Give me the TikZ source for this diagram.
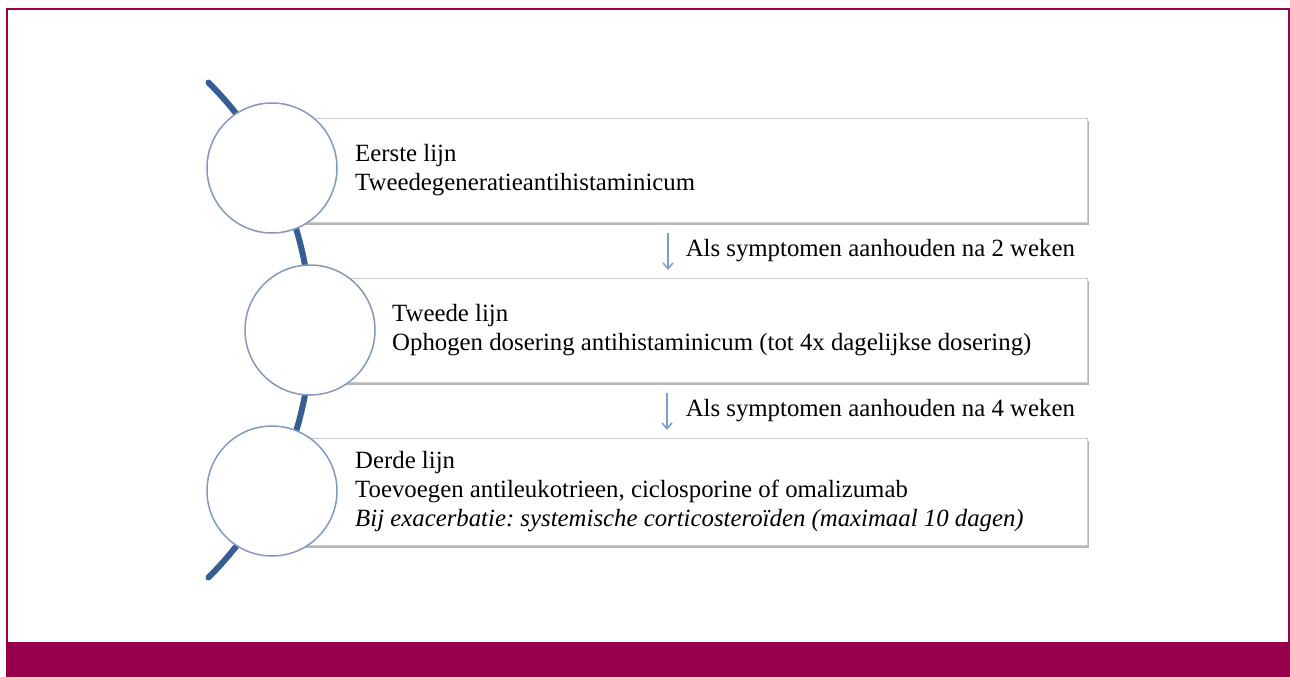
\documentclass[tikz,border=0pt]{standalone}
\usepackage{fontspec}
\setmainfont{Liberation Serif}
\frenchspacing
\usetikzlibrary{positioning,shadows,arrows.meta}
\definecolor{wine}{HTML}{99004C}
\definecolor{spineblue}{HTML}{365E94}
\definecolor{ringblue}{HTML}{8598C0}
\definecolor{arrowblue}{HTML}{7F9DCB}
\tikzset{
  stepbox/.style={draw=gray!40, line width=1pt, fill=white, inner sep=0pt,
    drop shadow={shadow xshift=1pt, shadow yshift=-2pt, fill=gray!80, opacity=.7},
    minimum height=104pt, anchor=north west},
  ring/.style={circle, draw=ringblue, line width=1.5pt, fill=white, minimum size=130pt, inner sep=0pt},
  steptext/.style={align=left, inner sep=0pt, font=\fontsize{24.8}{29}\selectfont},
  steplabel/.style={inner sep=0pt, font=\fontsize{24.8}{29}\selectfont},
  nextstep/.style={draw=arrowblue, line width=1.5pt, -{Straight Barb[length=6pt,width=10pt]}}
}
\begin{document}
\begin{tikzpicture}[x=1pt, y=-1pt]
\useasboundingbox (0,0) rectangle (1290,677);
% frame and footer band
\fill[wine] (6,642) rectangle (1290,677);
\draw[wine, line width=2pt] (7,642) -- (7,9) -- (1288.5,9) -- (1288.5,642);
% spine behind the rings
\coordinate (spinetop) at (208.5,82.5);
\draw[spineblue, line width=6pt, line cap=round] (spinetop) arc[start angle=45, end angle=-45, radius=350pt];
% boxes
\node[stepbox, minimum width=815pt] (b1) at (272,118) {};
\node[stepbox, minimum width=777pt] (b2) at (310,278) {};
\node[stepbox, minimum width=815pt, minimum height=107pt] (b3) at (272,438) {};
% rings
\node[ring] (c1) at (272,168) {};
\node[ring] (c2) at (310,330) {};
\node[ring] (c3) at (272,491) {};
% texts
\node[steptext, right=83pt of b1.west] (t1) {Eerste lijn\\Tweedegeneratieantihistaminicum};
\node[steptext, right=82pt of b2.west] (t2) {Tweede lijn\\Ophogen dosering antihistaminicum (tot 4x dagelijkse dosering)};
\node[steptext, right=83pt of b3.west] (t3) {Derde lijn\\Toevoegen antileukotrieen, ciclosporine of omalizumab\\
  \itshape Bij exacerbatie: systemische corticosteroïden (maximaal 10 dagen)};
% arrows
\draw[nextstep, shorten <=10pt, shorten >=8pt] ([xshift=-12pt]b1.south) -- ([xshift=-12pt]b1.south |- b2.north)
  node[steplabel, midway, right=17pt] (l1) {Als symptomen aanhouden na 2 weken};
\draw[nextstep, shorten <=10pt, shorten >=8pt] ([xshift=-13pt]b1.south |- b2.south) -- ([xshift=-13pt]b1.south |- b3.north)
  node[steplabel, midway, right=18pt] (l2) {Als symptomen aanhouden na 4 weken};
\end{tikzpicture}
\end{document}
